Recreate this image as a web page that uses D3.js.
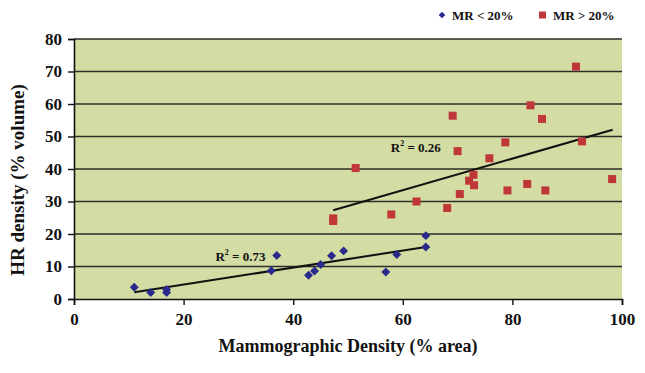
<!DOCTYPE html>
<html>
<head>
<meta charset="utf-8">
<script src="https://cdn.jsdelivr.net/npm/d3@7"></script>
<style>
    body { margin: 0; background: #fff; }
    text { font-family: "Liberation Serif", "DejaVu Serif", serif; font-weight: bold; }
</style>
</head>
<body>
<script>
// MR < 20% group (blue diamonds)
const lowX = [11.0, 14.0, 16.9, 16.9, 36.0, 37.0, 42.8, 43.9, 45.0, 47.0, 49.2, 56.9, 58.9, 64.2, 64.2];
const lowY = [3.6, 2.0, 2.9, 2.0, 8.7, 13.4, 7.3, 8.6, 10.6, 13.3, 14.8, 8.3, 13.7, 19.5, 16.0];
// MR > 20% group (red squares)
const highX = [47.3, 47.3, 51.4, 57.9, 62.5, 68.1, 69.1, 70.0, 70.4, 72.1, 72.9, 73.0, 75.8, 78.7, 79.1, 82.7, 83.3, 85.4, 86.0, 91.6, 92.7, 98.2];
const highY = [24.0, 24.8, 40.3, 26.0, 30.0, 28.0, 56.4, 45.5, 32.3, 36.4, 38.2, 35.0, 43.3, 48.2, 33.4, 35.4, 59.6, 55.4, 33.4, 71.5, 48.5, 36.9];
// trend line end points and R2 labels
const lowTrend = [[11.0, 2.1], [64.2, 16.0]];
const highTrend = [[47.3, 27.3], [98.3, 52.1]];
const r2Labels = [
    { text: "0.73", x: 25.8, y: 11.8 },
    { text: "0.26", x: 57.8, y: 45.3 }
];
const xTicks = [0, 20, 40, 60, 80, 100];
const yTicks = [0, 10, 20, 30, 40, 50, 60, 70, 80];

let width = 645,
    height = 373;
let margin = { left: 74, right: 23, top: 39, bottom: 74 };

let svg = d3.select("body")
    .append("svg")
    .attr("width", width)
    .attr("height", height);

let x = d3.scaleLinear().domain([0, 100]).range([margin.left, width - margin.right]);
let y = d3.scaleLinear().domain([0, 80]).range([height - margin.bottom, margin.top]);

// plot background
svg.append("rect")
    .attr("x", x(0))
    .attr("y", y(80))
    .attr("width", x(100) - x(0))
    .attr("height", y(0) - y(80))
    .attr("fill", "#d3dca3");

// grid lines
svg.append("g")
    .selectAll("line")
    .data(yTicks.filter(d => d > 0))
    .join("line")
    .attr("x1", x(0))
    .attr("x2", x(100))
    .attr("y1", d => y(d))
    .attr("y2", d => y(d))
    .attr("stroke", "#2e2e28")
    .attr("stroke-width", 1.4);

// axes
let yAxis = svg.append("g")
    .attr("transform", `translate(${x(0)},0)`)
    .call(d3.axisLeft(y).tickValues(yTicks).tickSize(6).tickPadding(6));
let xAxis = svg.append("g")
    .attr("transform", `translate(0,${y(0)})`)
    .call(d3.axisBottom(x).tickValues(xTicks).tickSize(6).tickPadding(8));
[xAxis, yAxis].forEach(g => {
    g.select(".domain").attr("stroke", "#111").attr("stroke-width", 1.6);
    g.selectAll(".tick line").attr("stroke", "#111").attr("stroke-width", 1.4);
    g.selectAll(".tick text")
        .attr("fill", "#111")
        .style("font-size", "17px")
        .style("font-family", "'Liberation Serif', serif")
        .style("font-weight", "bold");
});

// trend lines
[lowTrend, highTrend].forEach(t => {
    svg.append("line")
        .attr("x1", x(t[0][0])).attr("y1", y(t[0][1]))
        .attr("x2", x(t[1][0])).attr("y2", y(t[1][1]))
        .attr("stroke", "#111")
        .attr("stroke-width", 2);
});

// R2 labels
r2Labels.forEach(l => {
    let t = svg.append("text")
        .attr("x", x(l.x))
        .attr("y", y(l.y))
        .attr("fill", "#111")
        .style("font-size", "13px");
    t.append("tspan").text("R");
    t.append("tspan").attr("dy", -6).style("font-size", "8px").text("2");
    t.append("tspan").attr("dy", 6).text(" = " + l.text);
});

// points: diamonds are squares turned 45 degrees
let diamond = d3.symbol().type(d3.symbolSquare).size(40);
svg.append("g")
    .selectAll("path")
    .data(lowX.map((v, i) => [v, lowY[i]]))
    .join("path")
    .attr("d", diamond)
    .attr("transform", d => `translate(${x(d[0])},${y(d[1])}) rotate(45)`)
    .attr("fill", "#2a2a8c");

svg.append("g")
    .selectAll("rect")
    .data(highX.map((v, i) => [v, highY[i]]))
    .join("rect")
    .attr("x", d => x(d[0]) - 4)
    .attr("y", d => y(d[1]) - 4)
    .attr("width", 8)
    .attr("height", 8)
    .attr("fill", "#c0373a");

// axis titles
svg.append("text")
    .attr("x", 348)
    .attr("y", 352)
    .attr("text-anchor", "middle")
    .attr("fill", "#111")
    .style("font-size", "18px")
    .text("Mammographic Density (% area)");

svg.append("text")
    .attr("transform", `translate(24,180) rotate(-90)`)
    .attr("text-anchor", "middle")
    .attr("fill", "#111")
    .style("font-size", "19px")
    .text("HR density (% volume)");

// legend
let legend = svg.append("g").attr("transform", "translate(442,15)");
legend.append("path")
    .attr("d", d3.symbol().type(d3.symbolSquare).size(22))
    .attr("transform", "rotate(45)")
    .attr("fill", "#2a2a8c");
legend.append("text")
    .attr("x", 10).attr("y", 5)
    .attr("fill", "#111")
    .style("font-size", "13px")
    .text("MR < 20%");
legend.append("rect")
    .attr("x", 97).attr("y", -3.5)
    .attr("width", 7).attr("height", 7)
    .attr("fill", "#c0373a");
legend.append("text")
    .attr("x", 111).attr("y", 5)
    .attr("fill", "#111")
    .style("font-size", "13px")
    .text("MR > 20%");
</script>
</body>
</html>
